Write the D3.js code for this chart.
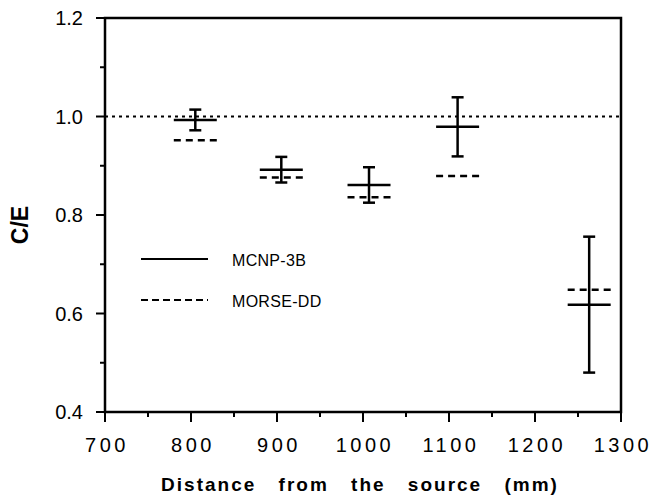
<!DOCTYPE html>
<html>
<head>
<meta charset="utf-8">
<script src="https://cdn.jsdelivr.net/npm/d3@7"></script>
<style>
  body { margin: 0; background: #fff; }
  text { font-family: "Liberation Sans", Arial, sans-serif; fill: #000; }
</style>
</head>
<body>
<div id="chart"></div>
<script>
// Data
var distances = [805, 905, 1007, 1110, 1263];
var mcnp = [0.993, 0.892, 0.861, 0.979, 0.618];
var mcnpErr = [0.021, 0.026, 0.036, 0.060, 0.138];
var morse = [0.952, 0.876, 0.836, 0.879, 0.648];
var xTicks = [700, 800, 900, 1000, 1100, 1200, 1300];
var yTicks = [0.4, 0.6, 0.8, 1.0, 1.2];
var legendNames = ["MCNP-3B", "MORSE-DD"];

var margin = { top: 18, right: 30, bottom: 85, left: 105 };
var width = 651 - margin.left - margin.right,
  height = 497 - margin.top - margin.bottom,
  halfBar = 25;

var svg = d3.select("#chart").append("svg")
  .attr("width", 651)
  .attr("height", 497);

var g = svg.append("g")
  .attr("transform", "translate(" + margin.left + "," + margin.top + ")");

var x = d3.scaleLinear().domain([700, 1300]).range([0, width]);
var y = d3.scaleLinear().domain([0.4, 1.2]).range([height, 0]);

// x axis: majors every 100, minors every 50
var xAll = d3.range(700, 1301, 50);
g.append("g")
  .attr("transform", "translate(0," + height + ")")
  .selectAll("line")
  .data(xAll)
  .enter()
  .append("line")
  .attr("x1", function(d) { return x(d); })
  .attr("x2", function(d) { return x(d); })
  .attr("y1", 0)
  .attr("y2", function(d) { return d % 100 === 0 ? 10 : 5; })
  .attr("stroke", "#000")
  .attr("stroke-width", 2);

g.selectAll("text.xtick")
  .data(xTicks)
  .enter()
  .append("text")
  .attr("class", "xtick")
  .attr("x", function(d) { return x(d) + 2; })
  .attr("y", height + 40)
  .attr("text-anchor", "middle")
  .style("font-size", "20px")
  .style("letter-spacing", "3.5px")
  .text(function(d) { return d; });

// y axis: majors every 0.2, minors every 0.1
var yAll = d3.range(4, 13).map(function(d) { return d / 10; });
g.append("g")
  .selectAll("line")
  .data(yAll)
  .enter()
  .append("line")
  .attr("x1", function(d) { return Math.round(d * 10) % 2 === 0 ? -9 : -5; })
  .attr("x2", 0)
  .attr("y1", function(d) { return y(d); })
  .attr("y2", function(d) { return y(d); })
  .attr("stroke", "#000")
  .attr("stroke-width", 2);

g.selectAll("text.ytick")
  .data(yTicks)
  .enter()
  .append("text")
  .attr("class", "ytick")
  .attr("x", -22)
  .attr("y", function(d) { return y(d) + 7; })
  .attr("text-anchor", "end")
  .style("font-size", "20px")
  .text(function(d) { return d.toFixed(1); });

// frame
g.append("rect")
  .attr("width", width)
  .attr("height", height)
  .attr("fill", "none")
  .attr("stroke", "#000")
  .attr("stroke-width", 2.5);

// C/E = 1 reference line
g.append("line")
  .attr("x1", 0).attr("x2", width)
  .attr("y1", y(1.0)).attr("y2", y(1.0))
  .attr("stroke", "#000")
  .attr("stroke-width", 2)
  .attr("stroke-dasharray", "3,4");

// MORSE-DD dashed bars
g.selectAll("line.morse")
  .data(distances)
  .enter()
  .append("line")
  .attr("class", "morse")
  .attr("x1", function(d) { return x(d - halfBar); })
  .attr("x2", function(d) { return x(d + halfBar); })
  .attr("y1", function(d, i) { return y(morse[i]); })
  .attr("y2", function(d, i) { return y(morse[i]); })
  .attr("stroke", "#000")
  .attr("stroke-width", 2.5)
  .attr("stroke-dasharray", "7,5");

// MCNP-3B with error bars
var pts = g.selectAll("g.mcnp")
  .data(distances)
  .enter()
  .append("g")
  .attr("class", "mcnp");

pts.append("line")
  .attr("x1", function(d) { return x(d - halfBar); })
  .attr("x2", function(d) { return x(d + halfBar); })
  .attr("y1", function(d, i) { return y(mcnp[i]); })
  .attr("y2", function(d, i) { return y(mcnp[i]); })
  .attr("stroke", "#000")
  .attr("stroke-width", 2.5);

pts.append("line")
  .attr("x1", function(d) { return x(d); })
  .attr("x2", function(d) { return x(d); })
  .attr("y1", function(d, i) { return y(mcnp[i] + mcnpErr[i]); })
  .attr("y2", function(d, i) { return y(mcnp[i] - mcnpErr[i]); })
  .attr("stroke", "#000")
  .attr("stroke-width", 2.5);

[1, -1].forEach(function(s) {
  pts.append("line")
    .attr("x1", function(d) { return x(d) - 6; })
    .attr("x2", function(d) { return x(d) + 6; })
    .attr("y1", function(d, i) { return y(mcnp[i] + s * mcnpErr[i]); })
    .attr("y2", function(d, i) { return y(mcnp[i] + s * mcnpErr[i]); })
    .attr("stroke", "#000")
    .attr("stroke-width", 2.5);
});

// legend
var legend = g.selectAll("g.legend")
  .data(legendNames)
  .enter()
  .append("g")
  .attr("class", "legend")
  .attr("transform", function(d, i) { return "translate(36," + (241 + i * 41) + ")"; });

legend.append("line")
  .attr("x1", 0).attr("x2", 67)
  .attr("stroke", "#000")
  .attr("stroke-width", 2)
  .attr("stroke-dasharray", function(d, i) { return i === 1 ? "7,4" : null; });

legend.append("text")
  .attr("x", 91)
  .attr("y", 7)
  .style("font-size", "16px")
  .style("letter-spacing", "0.3px")
  .text(function(d) { return d; });

// axis titles
svg.append("text")
  .attr("x", 360)
  .attr("y", 491)
  .attr("text-anchor", "middle")
  .style("font-size", "19px")
  .style("font-weight", "bold")
  .style("letter-spacing", "2px")
  .style("word-spacing", "15px")
  .text("Distance from the source (mm)");

svg.append("text")
  .attr("transform", "translate(28,225) rotate(-90)")
  .attr("text-anchor", "middle")
  .style("font-size", "23px")
  .style("font-weight", "bold")
  .text("C/E");
</script>
</body>
</html>
